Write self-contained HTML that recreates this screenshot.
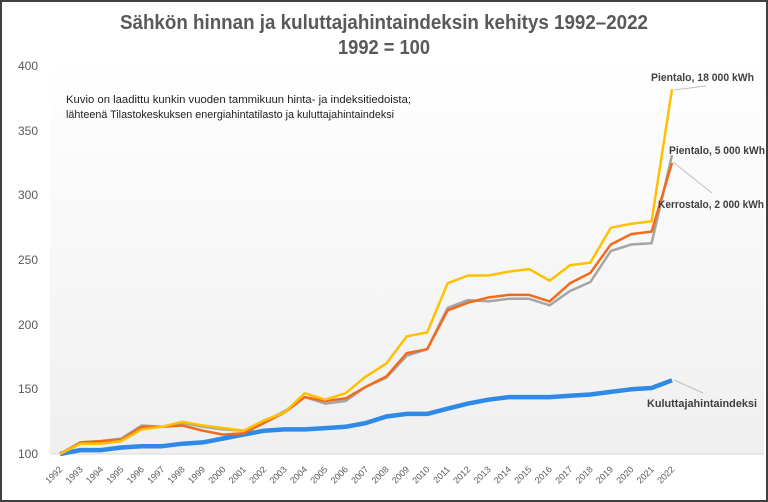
<!DOCTYPE html>
<html><head><meta charset="utf-8"><style>
html,body{margin:0;padding:0;background:#fff}
svg{display:block;font-family:"Liberation Sans",sans-serif}
</style></head><body>
<svg id="c" width="768" height="502" viewBox="0 0 768 502">
<defs><linearGradient id="g" x1="0" y1="0" x2="0" y2="1"><stop offset="0" stop-color="#ffffff"/><stop offset="1" stop-color="#efefef"/></linearGradient></defs>
<rect x="0" y="0" width="768" height="502" fill="#fff"/>
<rect x="50" y="60" width="714" height="394" fill="url(#g)"/>
<line x1="50" y1="454" x2="764" y2="454" fill="none" stroke="#d9d9d9" stroke-width="1"/>
<text x="120" y="29" font-size="20" font-weight="bold" fill="#595959" textLength="528" lengthAdjust="spacingAndGlyphs">Sähkön hinnan ja kuluttajahintaindeksin kehitys  1992–2022</text>
<text x="338" y="54" font-size="20" font-weight="bold" fill="#595959" textLength="92" lengthAdjust="spacingAndGlyphs">1992 = 100</text>
<g font-size="12" fill="#595959" text-anchor="end">
<text x="38" y="70">400</text><text x="38" y="135">350</text><text x="38" y="199">300</text><text x="38" y="264">250</text><text x="38" y="329">200</text><text x="38" y="393">150</text><text x="38" y="458">100</text>
</g>
<text x="66" y="103" font-size="11" fill="#222" textLength="345" lengthAdjust="spacingAndGlyphs">Kuvio on laadittu kunkin vuoden tammikuun hinta- ja indeksitiedoista;</text>
<text x="66" y="118" font-size="11" fill="#222" textLength="328" lengthAdjust="spacingAndGlyphs">lähteenä Tilastokeskuksen energiahintatilasto ja kuluttajahintaindeksi</text>
<g id="lines"></g>
<g id="xl" font-size="9" fill="#595959"></g>
<g stroke="#bfbfbf" stroke-width="1">
<line x1="674" y1="90" x2="706" y2="86"/>
<line x1="673" y1="162" x2="712" y2="193"/>
<line x1="674" y1="380" x2="703" y2="393"/>
</g>
<g font-size="11" font-weight="bold" fill="#404040" lengthAdjust="spacingAndGlyphs">
<text x="651" y="81" textLength="103" lengthAdjust="spacingAndGlyphs">Pientalo, 18 000 kWh</text>
<text x="669" y="154" textLength="96" lengthAdjust="spacingAndGlyphs">Pientalo, 5 000 kWh</text>
<text x="658" y="208" textLength="106" lengthAdjust="spacingAndGlyphs">Kerrostalo, 2 000 kWh</text>
<text x="647" y="407" textLength="110" lengthAdjust="spacingAndGlyphs">Kuluttajahintaindeksi</text>
</g>
<rect x="1" y="1" width="766" height="500" fill="none" stroke="#404040" stroke-width="2"/>
</svg>
<script>
const Y=[100,108,108,110,119,121,125,122,120,118,126,132,147,142,147,160,170,191,194,232,238,238,241,243,234,246,248,275,278,280,382];
const O=[100,109,110,111,121,121,122,118,115,116,124,132,144,141,143,152,160,178,181,211,217,221,223,223,218,232,240,262,270,272,325];
const G=[100,109,110,112,122,121,124,121,119,118,125,133,144,139,141,152,159,176,181,213,219,218,220,220,215,226,233,257,262,263,331];
const B=[100,103,103,105,106,106,108,109,112,115,118,119,119,120,121,124,129,131,131,135,139,142,144,144,144,145,146,148,150,151,157];
const x=i=>60+20.4*i, y=v=>454-(v-100)*1.2933;
const ns="http://www.w3.org/2000/svg";
function pl(d,c,w){const p=document.createElementNS(ns,"polyline");p.setAttribute("points",d.map((v,i)=>x(i).toFixed(1)+","+y(v).toFixed(1)).join(" "));p.setAttribute("fill","none");p.setAttribute("stroke",c);p.setAttribute("stroke-width",w);p.setAttribute("stroke-linejoin","round");document.getElementById("lines").appendChild(p);}
pl(B,"#2e8ae6",4.5);pl(G,"#a5a5a5",2.5);pl(O,"#f26b1d",2.5);pl(Y,"#ffc000",2.5);
const xl=document.getElementById("xl");
for(let i=0;i<31;i++){const t=document.createElementNS(ns,"text");const px=x(i)+3,py=470;t.setAttribute("x",px);t.setAttribute("y",py);t.setAttribute("text-anchor","end");t.setAttribute("transform","rotate(-45 "+px+" "+py+")");t.textContent=1992+i;xl.appendChild(t);}
</script>
</body></html>
